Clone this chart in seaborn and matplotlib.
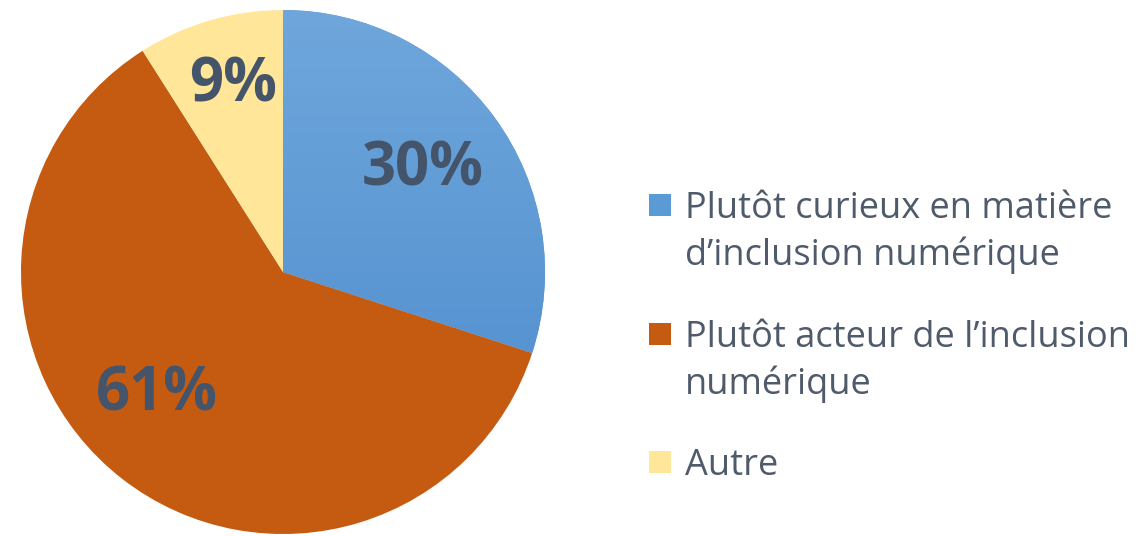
import numpy as np
import matplotlib.pyplot as plt
import seaborn as sns
from matplotlib.patches import Rectangle

sns.set_theme(style="white")
plt.rcParams['font.family'] = ['Open Sans', 'DejaVu Sans']

# data
categories = ["Plutôt curieux en matière\nd’inclusion numérique",
              "Plutôt acteur de l’inclusion\nnumérique",
              "Autre"]
shares = [30, 61, 9]
colors = ["#5B9BD5", "#C55A11", "#FFE699"]

W, H = 1145, 536
fig = plt.figure(figsize=(W / 100, H / 100), dpi=100)

# pie axes: centre (283, 272), radius 262 px
cx, cy, r = 283, 272, 262
ax = fig.add_axes([(cx - r) / W, (H - cy - r) / H, 2 * r / W, 2 * r / H])
wedges, texts, autotexts = ax.pie(shares, colors=colors, startangle=90, counterclock=False,
                                  autopct=lambda p: f"{p:.0f}%", pctdistance=0.66,
                                  wedgeprops=dict(linewidth=0),
                                  textprops=dict(color="#44546A", fontsize=43, fontweight="bold"))
ax.set_xlim(-1, 1)
ax.set_ylim(-1, 1)
ax.set_aspect("equal")
ax.axis("off")

# light-to-dark gradient on the blue slice
grad = np.linspace(0, 1, 256).reshape(-1, 1)
cmap = sns.blend_palette(["#4A89CB", "#6FA7DC"], as_cmap=True)
im = ax.imshow(grad, extent=[-1, 1, -1, 1], origin="lower", cmap=cmap, zorder=1.5, aspect="auto")
im.set_clip_path(wedges[0])
for t in autotexts:
    t.set_zorder(3)

# nudge the labels a bit like the original layout
autotexts[1].set_position((-0.48, -0.47))
autotexts[2].set_position((-0.19, 0.71))

# legend, handles aligned with first text line
entry_y = [0.619, 0.379, 0.14]
for lab, col, y in zip(categories, colors, entry_y):
    fig.patches.append(Rectangle((649 / W, y - 0.022), 22 / W, 22 / H,
                                 transform=fig.transFigure, facecolor=col, edgecolor="none"))
    fig.text(685 / W, y + 0.024, lab, fontsize=26, color="#4F5B6B", va="top",
             linespacing=1.32)

fig.savefig("out.png", dpi=100)
